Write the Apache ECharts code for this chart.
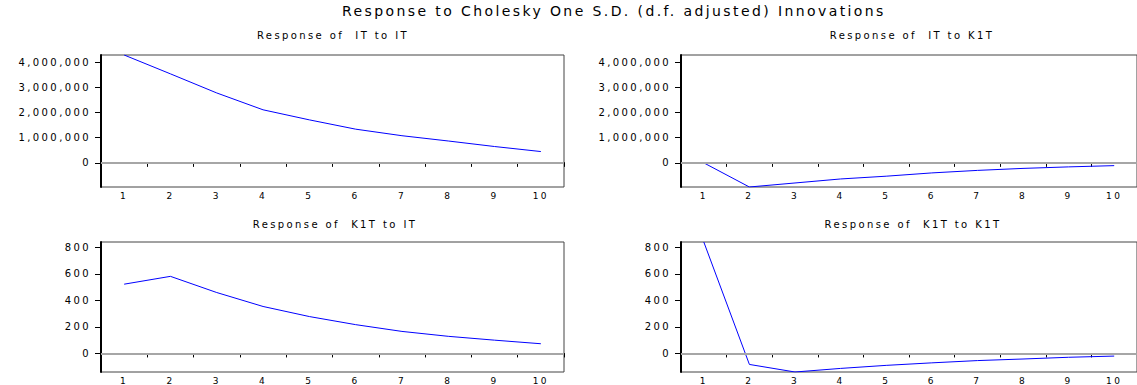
<!DOCTYPE html>
<html>
<head>
<meta charset="utf-8">
<script src="https://cdn.jsdelivr.net/npm/echarts@6/dist/echarts.min.js"></script>
<style>
  html, body { margin: 0; padding: 0; background: #fff; }
  #chart { width: 1137px; height: 385px; letter-spacing: 2.4px; }
</style>
</head>
<body>
<div id="chart"></div>
<script>
// ---- data ----
const periods = ['1', '2', '3', '4', '5', '6', '7', '8', '9', '10'];
const mainTitle = 'Response to Cholesky One S.D. (d.f. adjusted) Innovations';
const panelTitles = ['Response of  IT to IT', 'Response of  IT to K1T', 'Response of  K1T to IT', 'Response of  K1T to K1T'];
const itToIt   = [4290000, 3540000, 2780000, 2110000, 1710000, 1340000, 1080000, 870000, 650000, 450000];
const itToK1t  = [0, -960000, -800000, -640000, -530000, -400000, -300000, -220000, -160000, -110000];
const k1tToIt  = [522, 581, 459, 354, 278, 217, 166, 129, 100, 73];
const k1tToK1t = [840, -83, -140, -113, -90, -71, -54, -42, -29, -20];
const topTicks = [0, 1000000, 2000000, 3000000, 4000000];
const bottomTicks = [0, 200, 400, 600, 800];

// shared scale per row (EViews uses common scale)
const topMin = Math.min(...itToIt, ...itToK1t), topMax = Math.max(...itToIt, ...itToK1t);
const botMin = Math.min(...k1tToIt, ...k1tToK1t), botMax = Math.max(...k1tToIt, ...k1tToK1t);

const FONT = 'DejaVu Sans';
const layout = [
  { left: 101, top: 55, width: 463, height: 132, tx: 333, ty: 30 },
  { left: 681, top: 55, width: 461, height: 132, tx: 912, ty: 30 },
  { left: 101, top: 242, width: 463, height: 132, tx: 335, ty: 219 },
  { left: 681, top: 242, width: 461, height: 132, tx: 913, ty: 219 }
];
const panels = [
  { data: itToIt, min: topMin, max: topMax, ticks: topTicks },
  { data: itToK1t, min: topMin, max: topMax, ticks: topTicks },
  { data: k1tToIt, min: botMin, max: botMax, ticks: bottomTicks },
  { data: k1tToK1t, min: botMin, max: botMax, ticks: bottomTicks }
];

const option = {
  animation: false,
  backgroundColor: '#fff',
  title: [{
    text: mainTitle, left: 342, top: 4, padding: 0,
    textStyle: { fontFamily: FONT, fontSize: 14, fontWeight: 'normal', color: '#000' }
  }].concat(layout.map((l, i) => ({
    text: panelTitles[i], left: l.tx, top: l.ty, padding: 0, textAlign: 'center',
    textStyle: { fontFamily: FONT, fontSize: 10, fontWeight: 'normal', color: '#000' }
  }))),
  grid: layout.map(l => ({
    left: l.left, top: l.top, width: l.width, height: l.height,
    show: true, borderColor: '#444', borderWidth: 1, containLabel: false
  })),
  xAxis: layout.map((l, i) => ({
    type: 'category', gridIndex: i, data: periods, boundaryGap: true,
    axisLine: { show: true, lineStyle: { color: '#000', width: 2 } },
    axisTick: { show: true, inside: false, length: 4, alignWithLabel: false, interval: 0, lineStyle: { color: '#000', width: 1 } },
    axisLabel: { interval: 0, margin: 4, fontFamily: FONT, fontSize: 9, color: '#000' },
    splitLine: { show: false }
  })),
  yAxis: panels.map((p, i) => ({
    type: 'value', gridIndex: i, min: p.min, max: p.max,
    axisLine: { show: true, onZero: false, lineStyle: { color: '#000', width: 2 } },
    axisTick: { show: true, length: 6, customValues: p.ticks, lineStyle: { color: '#000', width: 1 } },
    axisLabel: {
      customValues: p.ticks, margin: 10, fontFamily: FONT, fontSize: 10, color: '#000',
      formatter: v => Number(v).toLocaleString('en-US')
    },
    splitLine: { show: false }
  })),
  series: panels.map((p, i) => ({
    type: 'line', xAxisIndex: i, yAxisIndex: i, data: p.data,
    symbol: 'none', smooth: false, clip: true,
    lineStyle: { color: '#0000ff', width: 1 },
    markLine: {
      silent: true, symbol: 'none', label: { show: false },
      lineStyle: { color: '#a6a6a6', width: 2, type: 'solid' },
      data: [{ yAxis: 0 }]
    }
  }))
};

const chart = echarts.init(document.getElementById('chart'), null, { renderer: 'svg' });
chart.setOption(option);
</script>
</body>
</html>
